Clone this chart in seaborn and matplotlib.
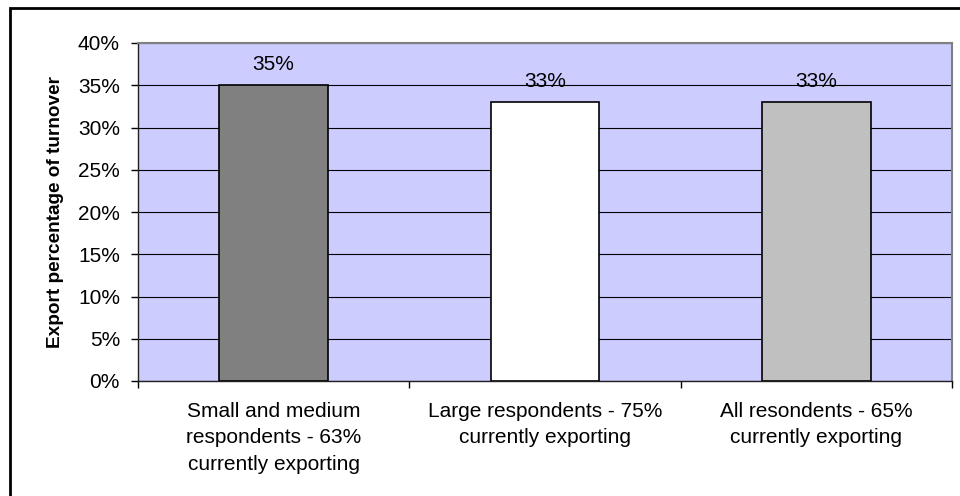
import matplotlib
matplotlib.use("Agg")
import matplotlib.pyplot as plt
from matplotlib.patches import Rectangle
from matplotlib.ticker import FixedLocator, PercentFormatter
import seaborn as sns
import pandas as pd

# Export share of turnover by respondent group
categories = [
    "Small and medium\nrespondents - 63%\ncurrently exporting",
    "Large respondents - 75%\ncurrently exporting",
    "All resondents - 65%\ncurrently exporting",
]
export_pct = [35, 33, 33]
bar_colors = ["#808080", "#FFFFFF", "#C0C0C0"]
y_ticks = [0, 5, 10, 15, 20, 25, 30, 35, 40]

sns.set_theme(style="white")
plt.rcParams["font.family"] = ["Liberation Sans", "DejaVu Sans"]

df = pd.DataFrame({"group": categories, "pct": export_pct})

fig = plt.figure(figsize=(9.6, 4.96), dpi=100)
ax = fig.add_axes([138 / 960, 1 - 381 / 496, 814 / 960, 338 / 496])
ax.set_facecolor("#CCCCFF")

sns.barplot(
    data=df, x="group", y="pct", hue="group", palette=bar_colors,
    width=0.4, edgecolor="black", linewidth=1.2, legend=False, ax=ax,
    zorder=3,
)

ax.set_ylim(0, 40)
ax.set_xlim(-0.5, 2.5)
ax.set_yticks(y_ticks)
ax.yaxis.set_major_formatter(PercentFormatter(decimals=0))
ax.yaxis.grid(True, color="black", linewidth=0.8, zorder=1)
ax.set_axisbelow(True)

# category boundary tick marks on the x axis
ax.xaxis.set_minor_locator(FixedLocator([-0.5, 0.5, 1.5, 2.5]))
ax.tick_params(axis="x", which="major", length=0, pad=15, labelsize=15,
               labelcolor="black")
ax.tick_params(axis="x", which="minor", bottom=True, length=5, width=1,
               color="black")
ax.tick_params(axis="y", which="major", left=True, length=5, width=1,
               color="black", pad=8, labelsize=15, labelcolor="black")
for lbl in ax.get_xticklabels():
    lbl.set_linespacing(1.5)

ax.set_xlabel("")
ax.set_ylabel("Export percentage of turnover", fontsize=13.7,
              fontweight="bold", color="black", labelpad=10)

for side in ["top", "right"]:
    ax.spines[side].set_visible(True)
    ax.spines[side].set_color("#808080")
    ax.spines[side].set_linewidth(1.5)
for side in ["left", "bottom"]:
    ax.spines[side].set_visible(True)
    ax.spines[side].set_color("#202020")
    ax.spines[side].set_linewidth(1.0)

for i, v in enumerate(export_pct):
    ax.annotate(f"{v}%", xy=(i, v), xytext=(0, 8), textcoords="offset points",
                ha="center", va="bottom", fontsize=15, color="black",
                zorder=4)

# outer chart frame
fig.patches.append(Rectangle((10 / 960, -0.1), 1.2, 1 - 8 / 496 + 0.1,
                             transform=fig.transFigure, fill=False,
                             edgecolor="black", linewidth=2.0))

fig.savefig("out.png", dpi=100)
